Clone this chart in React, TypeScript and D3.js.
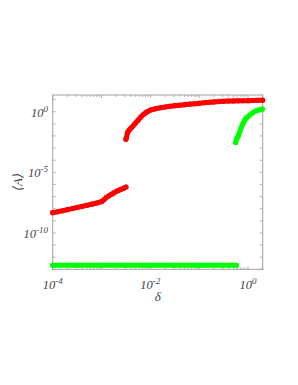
import React from "react";
import * as d3 from "d3";

// ---- data (log10 values) ----
const redSeg1LogDelta = [-4.0, -3.9, -3.8, -3.7, -3.6, -3.5, -3.4, -3.3, -3.2, -3.1, -3.0, -2.95, -2.9, -2.85, -2.8, -2.75, -2.7, -2.65, -2.6, -2.55, -2.5];
const redSeg1LogA = [-8.33, -8.25, -8.17, -8.08, -7.99, -7.9, -7.81, -7.72, -7.63, -7.53, -7.42, -7.26, -7.06, -6.94, -6.82, -6.7, -6.58, -6.49, -6.4, -6.31, -6.22];

const redSeg2LogDelta = [-2.5, -2.49, -2.47, -2.45, -2.42, -2.38, -2.34, -2.3, -2.25, -2.2, -2.15, -2.1, -2.05, -2.0, -1.9, -1.8, -1.7, -1.6, -1.5, -1.4, -1.3, -1.2, -1.1, -1.0, -0.9, -0.8, -0.7, -0.6, -0.5, -0.4, -0.3, -0.2, -0.1, 0.0, 0.1, 0.2, 0.3];
const redSeg2LogA = [-2.28, -2.15, -1.75, -1.6, -1.45, -1.28, -1.1, -0.92, -0.7, -0.45, -0.25, -0.1, 0.03, 0.14, 0.24, 0.32, 0.39, 0.45, 0.5, 0.54, 0.58, 0.62, 0.66, 0.7, 0.74, 0.78, 0.81, 0.84, 0.86, 0.88, 0.89, 0.9, 0.905, 0.91, 0.925, 0.94, 0.95];

const greenSeg1LogDelta = [-4.0, -3.5, -3.0, -2.5, -2.0, -1.5, -1.0, -0.5, -0.24];
const greenSeg1LogA = [-12.67, -12.67, -12.67, -12.67, -12.67, -12.67, -12.67, -12.67, -12.67];

const greenSeg2LogDelta = [-0.252, -0.23, -0.205, -0.19, -0.16, -0.135, -0.1, -0.067, -0.03, 0.0, 0.035, 0.1, 0.17, 0.23, 0.295];
const greenSeg2LogA = [-2.53, -2.2, -2.07, -1.87, -1.55, -1.24, -0.95, -0.69, -0.5, -0.4, -0.27, -0.08, 0.08, 0.16, 0.22];

const xLabelExps = [-4, -2, 0];
const yLabelExps = [0, -5, -10];

const RED = "#ff0000";
const GREEN = "#00ff00";

export default function App() {
  const W = 298, H = 385;
  const left = 52.7, right = 262.7, top = 95, bottom = 269.3;
  const x = d3.scaleLog().domain([1e-4, 2]).range([left, right]);
  const y = d3.scaleLog().domain([1e-13, Math.pow(10, 1.38)]).range([bottom, top]);

  const mk = (ld: number[], la: number[]) => ld.map((d, i) => [Math.pow(10, d), Math.pow(10, la[i])] as [number, number]);
  const series = [
    { pts: mk(greenSeg1LogDelta, greenSeg1LogA), color: GREEN },
    { pts: mk(greenSeg2LogDelta, greenSeg2LogA), color: GREEN },
    { pts: mk(redSeg1LogDelta, redSeg1LogA), color: RED },
    { pts: mk(redSeg2LogDelta, redSeg2LogA), color: RED },
  ];
  const line = d3.line<[number, number]>().x(d => x(d[0])).y(d => y(d[1]));

  // x minor ticks
  const xTicks: { v: number; major: boolean }[] = [];
  for (let n = -4; n <= 0; n++) {
    for (let k = 1; k <= 9; k++) {
      const v = k * Math.pow(10, n);
      if (v <= 2) xTicks.push({ v, major: k === 1 });
    }
  }
  const yTicks: number[] = [];
  for (let n = -13; n <= 1; n++) yTicks.push(Math.pow(10, n));

  const axisColor = "#a0a0a0";
  const textColor = "#444";
  const font = "'Liberation Serif', 'DejaVu Serif', serif";

  return (
    <svg width={W} height={H} style={{ position: "absolute", left: 0, top: 0, background: "#fff" }}>
      {/* frame */}
      <rect x={left} y={top} width={right - left} height={bottom - top} fill="none" stroke={axisColor} strokeWidth={1} />
      {/* x ticks */}
      {xTicks.map((t, i) => {
        const xx = x(t.v);
        const len = t.major ? 3 : 2;
        return (
          <g key={"xt" + i}>
            <line x1={xx} x2={xx} y1={bottom} y2={bottom - len} stroke={axisColor} strokeWidth={0.8} />
            <line x1={xx} x2={xx} y1={top} y2={top + len} stroke={axisColor} strokeWidth={0.8} />
          </g>
        );
      })}
      {/* y ticks */}
      {yTicks.map((v, i) => {
        const yy = y(v);
        return (
          <g key={"yt" + i}>
            <line x1={left} x2={left + 3} y1={yy} y2={yy} stroke={axisColor} strokeWidth={0.8} />
            <line x1={right} x2={right - 3} y1={yy} y2={yy} stroke={axisColor} strokeWidth={0.8} />
          </g>
        );
      })}
      {/* data */}
      {series.map((s, i) => (
        <g key={"s" + i}>
          <path d={line(s.pts) || ""} fill="none" stroke={s.color} strokeWidth={5} strokeLinecap="round" strokeLinejoin="round" />
          {s.pts.map((p, j) => (
            <circle key={j} cx={x(p[0])} cy={y(p[1])} r={2.6} fill={s.color} />
          ))}
        </g>
      ))}
      {/* x labels */}
      {xLabelExps.map(e => (
        <text key={"xl" + e} x={x(Math.pow(10, e))} y={289} textAnchor="middle" fontFamily={font} fontStyle="italic" fontSize={12.5} fill={textColor}>
          10<tspan dy={-5} fontSize={9}>{e}</tspan>
        </text>
      ))}
      {/* y labels */}
      {yLabelExps.map(e => (
        <text key={"yl" + e} x={48} y={y(Math.pow(10, e)) + 5} textAnchor="end" fontFamily={font} fontStyle="italic" fontSize={12.5} fill={textColor}>
          10<tspan dy={-5} fontSize={9}>{e}</tspan>
        </text>
      ))}
      {/* axis titles */}
      <text x={(left + right) / 2} y={301} textAnchor="middle" fontFamily={font} fontStyle="italic" fontSize={13} fill={textColor}>δ</text>
      <text transform={`translate(22, ${182}) rotate(-90)`} textAnchor="middle" fontFamily={font} fontStyle="italic" fontSize={13} fill={textColor}>⟨A⟩</text>
    </svg>
  );
}
